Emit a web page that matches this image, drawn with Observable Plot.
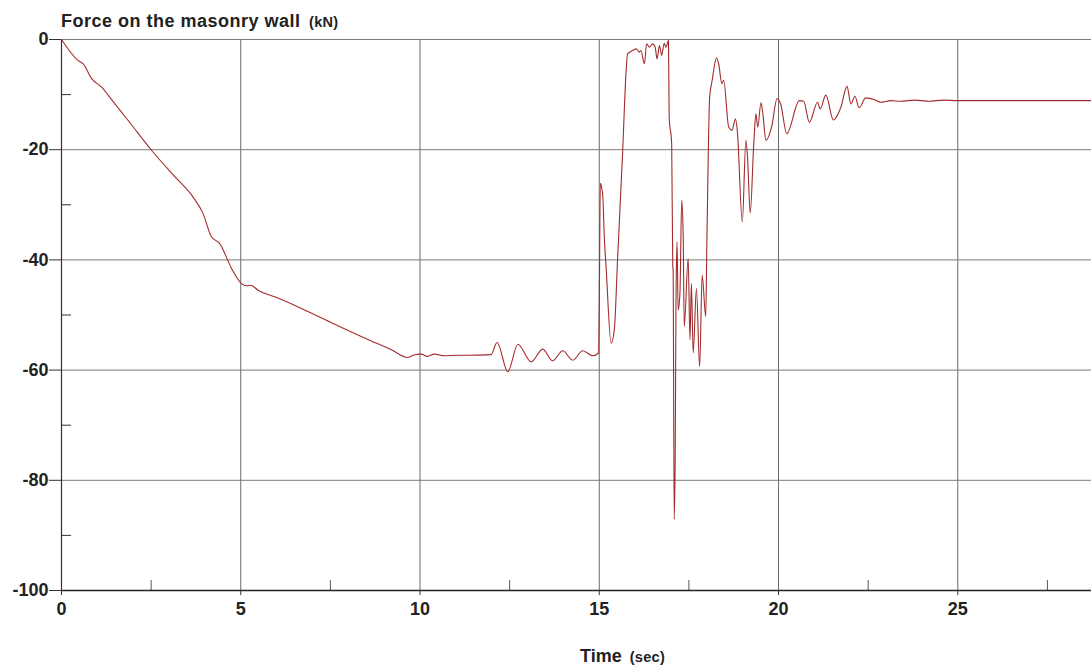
<!DOCTYPE html>
<html>
<head>
<meta charset="utf-8">
<script src="https://cdn.jsdelivr.net/npm/d3@7"></script>
<script src="https://cdn.jsdelivr.net/npm/@observablehq/plot@0.6"></script>
<style>
  html, body { margin: 0; padding: 0; background: #fff; }
  #wrap { position: relative; width: 1091px; height: 666px; font-family: "Liberation Sans", Arial, sans-serif; font-weight: bold; color: #222; }
  #title { position: absolute; left: 61px; top: 12px; font-size: 18px; letter-spacing: 0.5px; line-height: 1; white-space: nowrap; }
  #xlabel { position: absolute; left: 580px; top: 647px; font-size: 18px; line-height: 1; white-space: nowrap; }
  .small { font-size: 14.5px; letter-spacing: 0.3px; margin-left: 3px; }
  #wrap svg { position: absolute; left: 0; top: 0; }
</style>
</head>
<body>
<div id="wrap">
  <div id="chart"></div>
  <div id="title">Force on the masonry wall <span class="small">(kN)</span></div>
  <div id="xlabel">Time&nbsp;<span class="small">(sec)</span></div>
</div>
<script>
// Time (sec)
const time = [
  0, 0.46, 0.6, 0.84, 1.11, 1.49, 1.86, 2.51, 3.16, 3.67, 3.95, 4.18, 4.41, 4.74, 5.02, 5.16, 5.28, 5.48, 5.95, 6.69,
  7.5, 8.5, 9.2, 9.66, 9.85, 10.03, 10.2, 10.4, 10.68, 11.0, 11.33, 11.98, 12.15, 12.45, 12.73, 13.1,
  13.42, 13.70, 13.98, 14.26, 14.54, 14.82, 14.98, 15.0, 15.03, 15.07, 15.1, 15.14, 15.19, 15.33, 15.42, 15.51, 15.65,
  15.75, 15.79, 15.93, 16.03, 16.12, 16.16, 16.26, 16.32, 16.40, 16.49, 16.56, 16.61, 16.68, 16.74, 16.81, 16.86,
  16.93, 16.95, 17.02, 17.05, 17.06, 17.09, 17.12, 17.14, 17.17, 17.2, 17.25, 17.3, 17.34, 17.37, 17.48, 17.53,
  17.57, 17.62, 17.71, 17.8, 17.87, 17.97, 18.0, 18.08, 18.15, 18.27, 18.33, 18.42, 18.47, 18.61, 18.7, 18.8, 18.85,
  18.99, 19.09, 19.14, 19.21, 19.31, 19.37, 19.42, 19.51, 19.56, 19.65, 19.81, 19.96, 20.06, 20.23, 20.58, 20.7,
  20.86, 21.09, 21.16, 21.32, 21.53, 21.74, 21.91, 22.02, 22.13, 22.25, 22.43, 22.67, 22.85, 23.13, 23.41, 23.8,
  24.2, 24.6, 25.0, 25.3, 28.73
];
// Force on the masonry wall (kN)
const force = [
  0, -3.8, -4.4, -7.1, -8.6, -11.7, -14.7, -20.1, -24.9, -28.6, -31.6, -35.8, -37.0, -41.5, -44.3, -44.7, -44.6, -45.5, -46.7, -48.8,
  -51.3, -54.3, -56.3, -57.7, -57.2, -57.1, -57.5, -57.1, -57.4, -57.3, -57.3, -57.2, -55.0, -60.3, -55.3, -58.5,
  -56.2, -58.3, -56.5, -58.2, -56.5, -57.4, -56.9, -47.9, -26.1, -27.0, -28.5, -35.8, -41.2, -55.1, -52.7, -40.0, -20.7,
  -5.6, -2.6, -2.0, -1.7, -2.3, -2.0, -4.4, -0.8, -1.4, -0.8, -1.4, -3.5, -1.1, -2.9, -0.7, -1.4,
  -0.2, -14.1, -18.9, -41.2, -41.8, -87.1, -73.9, -47.3, -36.7, -49.1, -46.1, -29.2, -35.2, -52.1, -39.7, -54.5,
  -44.3, -56.9, -45.2, -59.4, -42.8, -50.3, -37.6, -10.4, -7.4, -3.3, -4.4, -8.0, -7.4, -15.9, -16.5, -14.4, -16.5,
  -33.1, -18.3, -21.9, -31.5, -18.9, -13.5, -15.9, -11.5, -13.3, -18.3, -15.8, -10.7, -11.7, -17.1, -11.1, -11.2,
  -15.0, -11.4, -12.6, -10.1, -14.6, -12.3, -8.5, -11.7, -10.3, -12.4, -10.6, -10.9, -11.4, -11.1, -11.2, -11.0,
  -11.2, -11.0, -11.1, -11.1, -11.1
];
const xMajor = [0, 5, 10, 15, 20, 25];
const xMinor = [2.5, 7.5, 12.5, 17.5, 22.5, 27.5];
const yMajor = [0, -20, -40, -60, -80, -100];
const yMinor = [-10, -30, -50, -70, -90];
const xDomain = [0, 28.73];
const yDomain = [-100, 0];

const data = time.map((t, i) => ({t, f: force[i]}));

const W = 1091, H = 666, mL = 61, mR = 0, mT = 39, mB = 76;
const frameH = H - mT - mB, frameW = W - mL - mR;

const chart = Plot.plot({
  width: W, height: H,
  marginLeft: mL, marginRight: mR, marginTop: mT, marginBottom: mB,
  style: {fontFamily: "'Liberation Sans', Arial, sans-serif", background: "transparent", overflow: "visible"},
  x: {domain: xDomain},
  y: {domain: yDomain},
  marks: [
    Plot.gridX(xMajor.filter(d => d > 0), {stroke: "#6a6a6a", strokeOpacity: 1, strokeWidth: 1}),
    Plot.gridY(yMajor.filter(d => d > -100), {stroke: "#7a7a7a", strokeOpacity: 1, strokeWidth: 1}),
    Plot.tickX(xMinor, {x: d => d, insetTop: frameH - 10, stroke: "#555"}),
    Plot.tickY(yMinor, {y: d => d, insetRight: frameW - 10, stroke: "#333"}),
    Plot.ruleY([-100], {stroke: "#222", strokeWidth: 1.3}),
    Plot.ruleX([0], {stroke: "#333", strokeWidth: 1.2}),
    Plot.axisX(xMajor, {tickSize: 5, tickPadding: 7, fontSize: 18, fontWeight: "bold", fill: "#222", stroke: "#333", label: null, tickFormat: d => String(d)}),
    Plot.axisY(yMajor, {tickSize: 12, tickPadding: 1, fontSize: 18, fontWeight: "bold", fill: "#222", stroke: "#333", label: null, tickFormat: d => String(d)}),
    Plot.line(data, {x: "t", y: "f", stroke: "#a42b2b", strokeWidth: 1.1, curve: "monotone-x"})
  ]
});
document.getElementById("chart").appendChild(chart);
</script>
</body>
</html>
